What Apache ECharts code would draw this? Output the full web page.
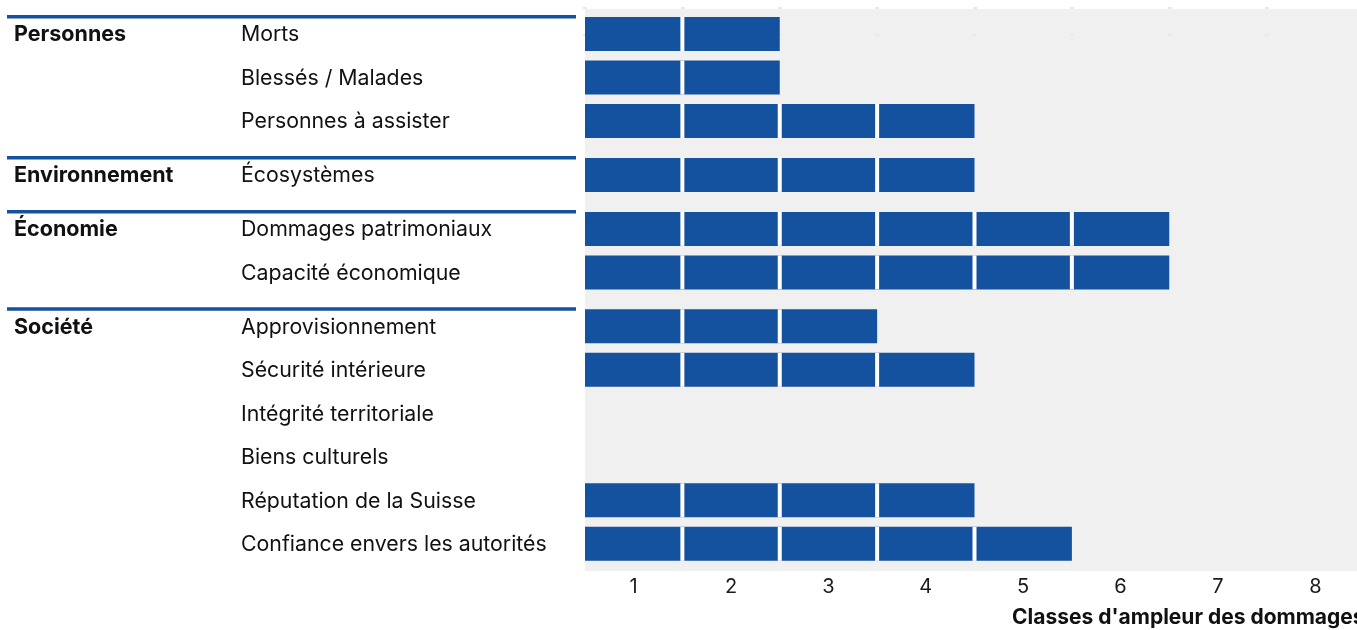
<!DOCTYPE html>
<html>
<head>
<meta charset="utf-8">
<script src="https://cdn.jsdelivr.net/npm/echarts@6/dist/echarts.min.js"></script>
<style>
html,body{margin:0;padding:0;background:#fff;overflow:hidden;}
#c{width:1372px;height:630px;}
</style>
</head>
<body>
<div id="c"></div>
<script>
// ---- data ----
const classLabels = ['1', '2', '3', '4', '5', '6', '7', '8'];
const groupNames = ['Personnes', 'Environnement', 'Économie', 'Société'];
const rowLabels = [
  'Morts', 'Blessés / Malades', 'Personnes à assister',
  'Écosystèmes',
  'Dommages patrimoniaux', 'Capacité économique',
  'Approvisionnement', 'Sécurité intérieure', 'Intégrité territoriale',
  'Biens culturels', 'Réputation de la Suisse', 'Confiance envers les autorités'
];
const rowGroups = [0, 0, 0, 1, 2, 2, 3, 3, 3, 3, 3, 3];
const rowValues = [2, 2, 4, 4, 6, 6, 3, 4, 0, 0, 4, 5];
const axisTitle = "Classes d'ampleur des dommages";

// ---- layout ----
const BLUE = '#14519f';
const FONT = 'Inter, "Liberation Sans", Arial, sans-serif';
const ROW_PX = 43.5;
const GROUP_GAP = 0.24;       // extra gap between groups, in row units
const GRID_TOP = 9, GRID_H = 562, FIRST_ROW_PX = 34;
const yMin = -(FIRST_ROW_PX - GRID_TOP) / ROW_PX;
const yMax = yMin + GRID_H / ROW_PX;
const BAR_H = 34;

const rowPos = rowLabels.map((_, i) => i + rowGroups[i] * GROUP_GAP);

const barData = [];
rowValues.forEach((v, i) => {
  for (let k = 0; k < v; k++) barData.push([k, rowPos[i]]);
});
const labelData = rowLabels.map((_, i) => [0, rowPos[i], i]);

const chart = echarts.init(document.getElementById('c'));
chart.setOption({
  animation: false,
  grid: {
    left: 585, top: GRID_TOP, width: 779, height: GRID_H,
    show: true, backgroundColor: '#f0f0f0', borderWidth: 0
  },
  xAxis: [{
    type: 'category', data: classLabels, position: 'bottom',
    axisLine: { show: false },
    axisTick: { show: true, length: 2, lineStyle: { color: '#e9e9e9', width: 4 } },
    axisLabel: { fontFamily: FONT, fontSize: 20, color: '#1a1a1a', margin: 6 },
    splitLine: { show: false }
  }, {
    type: 'category', data: classLabels, position: 'top',
    axisLine: { show: false },
    axisTick: { show: true, length: 2, lineStyle: { color: '#e9e9e9', width: 4 } },
    axisLabel: { show: false },
    splitLine: { show: false }
  }],
  yAxis: {
    type: 'value', inverse: true, min: yMin, max: yMax,
    show: false, splitLine: { show: false }
  },
  graphic: [{
    type: 'text', left: 1012, top: 607,
    style: { text: axisTitle, font: 'bold 21px ' + FONT, fill: '#111' }
  }],
  series: [{
    type: 'custom',
    name: 'bars',
    xAxisIndex: 0,
    silent: true,
    data: barData,
    renderItem: function (params, api) {
      const k = api.value(0);
      const c = api.coord([k, api.value(1)]);
      const w = api.size([1, 0])[0];
      const x0 = c[0] - w / 2;
      const children = [{
        type: 'rect',
        shape: { x: x0, y: c[1] - BAR_H / 2, width: w, height: BAR_H },
        style: { fill: BLUE }
      }];
      if (k > 0) {
        children.push({
          type: 'rect',
          shape: { x: x0 - 2, y: c[1] - BAR_H / 2, width: 4, height: BAR_H },
          style: { fill: '#ffffff' }
        });
      }
      return { type: 'group', children: children };
    }
  }, {
    type: 'custom',
    name: 'labels',
    xAxisIndex: 0,
    silent: true,
    clip: false,
    data: labelData,
    renderItem: function (params, api) {
      const i = api.value(2);
      const c = api.coord([0, api.value(1)]);
      const children = [{
        type: 'text',
        style: {
          x: 241, y: c[1] + 1, text: rowLabels[i],
          font: '21.3px ' + FONT, fill: '#111',
          verticalAlign: 'middle', align: 'left'
        }
      }];
      if (i === 0 || rowGroups[i] !== rowGroups[i - 1]) {
        children.push({
          type: 'rect',
          shape: { x: 7, y: c[1] - 19, width: 569, height: 3.5 },
          style: { fill: BLUE }
        });
        children.push({
          type: 'text',
          style: {
            x: 14, y: c[1] + 1, text: groupNames[rowGroups[i]],
            font: 'bold 21.5px ' + FONT, fill: '#111',
            verticalAlign: 'middle', align: 'left'
          }
        });
      }
      return { type: 'group', children: children };
    }
  }]
});
</script>
</body>
</html>
